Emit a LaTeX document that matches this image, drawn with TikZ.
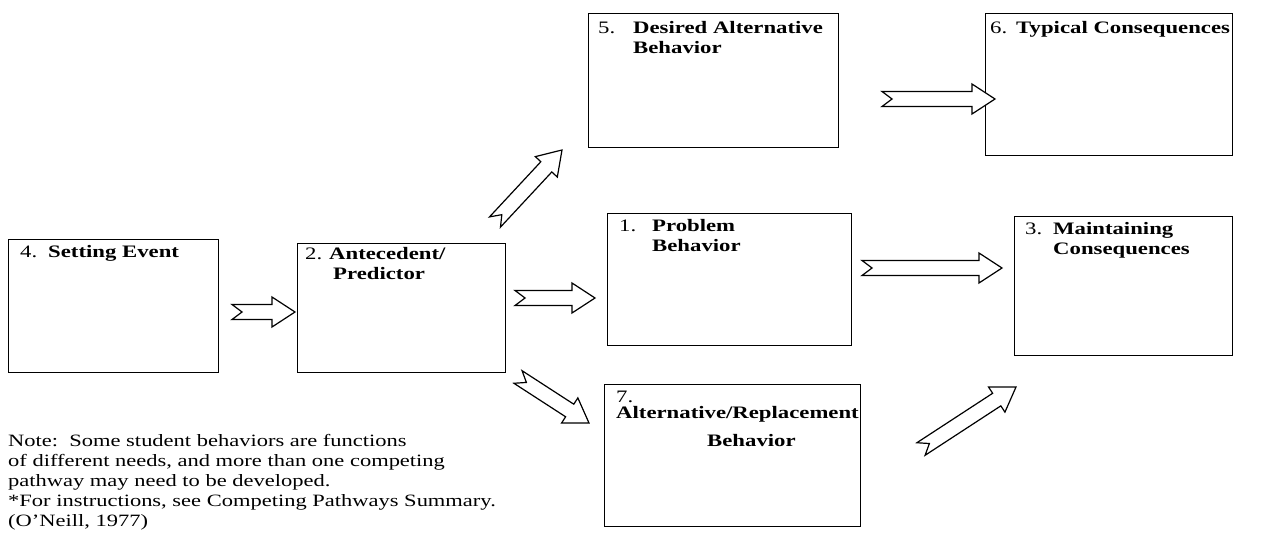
\documentclass[tikz,border=0pt]{standalone}
\usepackage{fontspec}
\setmainfont{Liberation Serif}[FakeStretch=1.3]
\usepackage{tikz}
\usetikzlibrary{calc}

% hollow block arrow with notched tail, from #1 (tail) to #2 (tip)
\newcommand{\fatarrow}[2]{%
  \coordinate (hb) at ($(#2)!23pt!(#1)$);
  \draw[fat] ($(#1)!7.5pt!90:(#2)$) -- ($(hb)!7.5pt!90:(#2)$) -- ($(hb)!15pt!90:(#2)$) -- (#2)
    -- ($(hb)!15pt!-90:(#2)$) -- ($(hb)!7.5pt!-90:(#2)$) -- ($(#1)!7.5pt!-90:(#2)$)
    -- ($(#1)!10pt!(#2)$) -- cycle;
}

\begin{document}
\begin{tikzpicture}[x=1pt, y=-1pt,
    font=\fontsize{17.5}{20}\selectfont,
    box/.style={draw, line width=1.4pt, anchor=north west, inner sep=0pt},
    head/.style={anchor=north west, inner sep=0pt},
    fat/.style={draw, line width=1.2pt, fill=white, line join=miter}
  ]
  \useasboundingbox (0,0) rectangle (1278,540);

  % boxes
  \node[box, minimum width=210pt, minimum height=133pt] (set)  at (8,239)   {};
  \node[box, minimum width=208pt, minimum height=129pt] (ante) at (297,243) {};
  \node[box, minimum width=250pt, minimum height=134pt] (des)  at (588,13)  {};
  \node[box, minimum width=247pt, minimum height=142pt] (typ)  at (985,13)  {};
  \node[box, minimum width=244pt, minimum height=132pt] (prob) at (607,213) {};
  \node[box, minimum width=218pt, minimum height=139pt] (main) at (1014,216) {};
  \node[box, minimum width=256pt, minimum height=142pt] (alt)  at (604,384) {};

  % box texts
  \node[head] (settxt)  at ($(set.north west)+(12,4)$)
    {\begin{tabular}{@{}p{28pt}@{}l@{}}4. & \textbf{Setting Event}\end{tabular}};
  \node[head] (antetxt) at ($(ante.north west)+(8,2)$)
    {\begin{tabular}{@{}p{24pt}@{}l@{}}2. & \textbf{Antecedent/}\\ & \hspace{4pt}\textbf{Predictor}\end{tabular}};
  \node[head] (destxt)  at ($(des.north west)+(10,6)$)
    {\begin{tabular}{@{}p{35pt}@{}l@{}}5. & \textbf{Desired Alternative}\\ & \textbf{Behavior}\end{tabular}};
  \node[head] (typtxt)  at ($(typ.north west)+(5,6)$)
    {\begin{tabular}{@{}p{26pt}@{}l@{}}6. & \textbf{Typical Consequences}\end{tabular}};
  \node[head] (probtxt) at ($(prob.north west)+(12,4)$)
    {\begin{tabular}{@{}p{33pt}@{}l@{}}1. & \textbf{Problem}\\ & \textbf{Behavior}\end{tabular}};
  \node[head] (maintxt) at ($(main.north west)+(11,4)$)
    {\begin{tabular}{@{}p{28pt}@{}l@{}}3. & \textbf{Maintaining}\\ & \textbf{Consequences}\end{tabular}};
  \node[head] (alttxt)  at ($(alt.north west)+(12,4)$)
    {\begin{tabular}{@{}l@{}}7.\\[-4pt] \textbf{Alternative/Replacement}\\[8pt] \hspace{91pt}\textbf{Behavior}\end{tabular}};

  % note
  \node[head, font=\fontsize{17.3}{20}\selectfont] (note) at (8,432)
    {\begin{tabular}{@{}l@{}}
      Note:\ \ Some student behaviors are functions\\
      of different needs, and more than one competing\\
      pathway may need to be developed.\\
      {*}For instructions, see Competing Pathways Summary.\\
      (O’Neill, 1977)
    \end{tabular}};

  % arrow ends
  \coordinate (a1s) at (232,312);  \coordinate (a1e) at (295,312);
  \coordinate (a2s) at (515,298);  \coordinate (a2e) at (595,298);
  \coordinate (a3s) at (862,268);  \coordinate (a3e) at (1002,268);
  \coordinate (a4s) at (882,99);   \coordinate (a4e) at (995,99);
  \coordinate (a5s) at (495,222);  \coordinate (a5e) at (562,150);
  \coordinate (a6s) at (518,377);  \coordinate (a6e) at (589,423);
  \coordinate (a7s) at (921,449);  \coordinate (a7e) at (1016,387);

  \fatarrow{a1s}{a1e}
  \fatarrow{a2s}{a2e}
  \fatarrow{a3s}{a3e}
  \fatarrow{a4s}{a4e}
  \fatarrow{a5s}{a5e}
  \fatarrow{a6s}{a6e}
  \fatarrow{a7s}{a7e}
\end{tikzpicture}
\end{document}
